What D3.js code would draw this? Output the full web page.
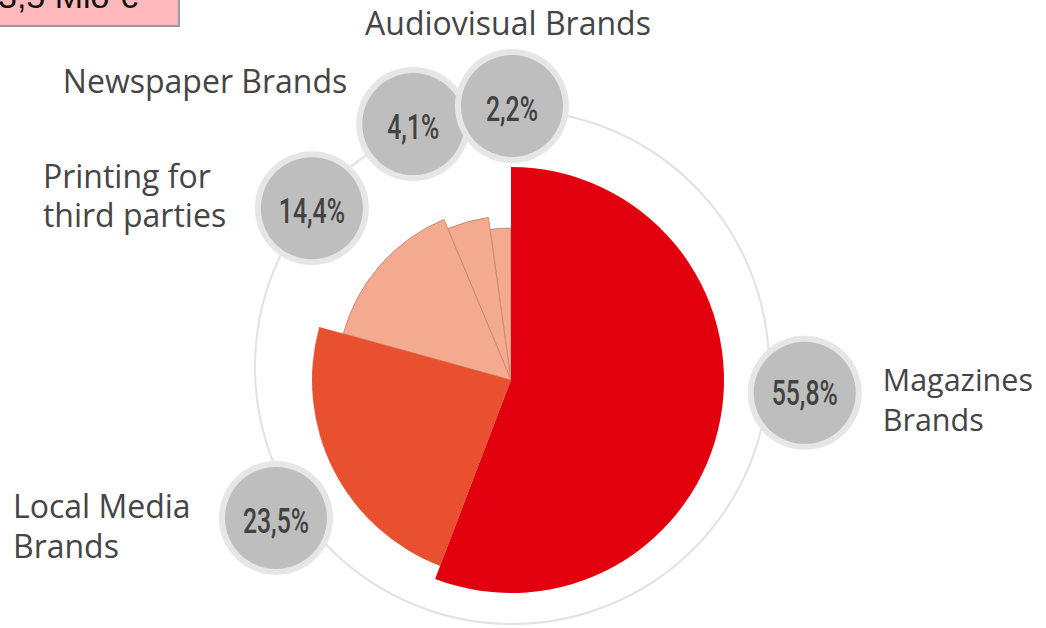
<!DOCTYPE html>
<html>
<head>
<meta charset="utf-8">
<script src="https://cdn.jsdelivr.net/npm/d3@7"></script>
<style>
  html, body { margin: 0; padding: 0; background: #ffffff; }
  svg { display: block; }
</style>
</head>
<body>
<svg id="chart" width="1046" height="628"></svg>
<script>
// Revenue split by business line (share of total, %)
const categories = ["Magazines Brands", "Local Media Brands", "Printing for third parties", "Newspaper Brands", "Audiovisual Brands"];
const shares = [55.8, 23.5, 14.4, 4.1, 2.2];
const labelLines = [["Magazines", "Brands"], ["Local Media", "Brands"], ["Printing for", "third parties"], ["Newspaper Brands"], ["Audiovisual Brands"]];
const valueLabels = ["55,8%", "23,5%", "14,4%", "4,1%", "2,2%"];
const bannerText = "3,5 Mio €";

// ---- layout ----
const W = 1046, H = 628;
const cx = 511, cy = 380;                 // pie centre
const ring = { x: 512, y: 367, r: 257 };  // thin guide circle
const outerRadii = [213, 199, 174, 164, 152];
const colors = ["#e2000f", "#e8502f", "#f3aa8e", "#f3aa8e", "#f3aa8e"];
// bubble placement: angle (deg, clockwise from 12 o'clock) and distance from pie centre
const bubblePos = [[92.5, 294], [239.6, 272.5], [310.8, 263], [339.1, 274], [0.2, 274]];
// label placement relative to the bubble centre
const labelPos = [
  { anchor: "start",  dx: 78,   dy: [-2, 38], size: 30.5 },
  { anchor: "start",  dx: -263, dy: [0, 40],  size: 32 },
  { anchor: "start",  dx: -269, dy: [-20, 19], size: 32 },
  { anchor: "end",    dx: -66,  dy: [-31],    size: 32 },
  { anchor: "middle", dx: -4,   dy: [-71],    size: 32 }
];

const svg = d3.select("#chart");

// banner box at the top-left corner
const banner = svg.append("g");
banner.append("rect").attr("x", -4).attr("y", -4).attr("width", 184).attr("height", 31).attr("fill", "#9a9a9a");
banner.append("rect").attr("x", -4).attr("y", -4).attr("width", 182).attr("height", 29).attr("fill", "#ffb8bb");
banner.append("text").attr("x", -2).attr("y", 8)
  .attr("font-family", "Liberation Sans, Arial, sans-serif").attr("font-size", 34)
  .attr("fill", "#111").text(bannerText);

// guide circle
svg.append("circle").attr("cx", ring.x).attr("cy", ring.y).attr("r", ring.r)
  .attr("fill", "none").attr("stroke", "#e2e2e2").attr("stroke-width", 2);

// pie with per-slice radius
const data = categories.map((c, i) => ({ name: c, value: shares[i], i }));
const pie = d3.pie().sort(null).value(d => d.value).startAngle(0).endAngle(2 * Math.PI);
const arcs = pie(data);
const arc = d3.arc().innerRadius(0).outerRadius(d => outerRadii[d.data.i]);

const pieG = svg.append("g").attr("transform", `translate(${cx},${cy})`);
// draw light slices first, then the larger ones on top
pieG.selectAll("path.slice")
  .data(arcs.slice().reverse())
  .join("path")
  .attr("class", "slice")
  .attr("d", arc)
  .attr("fill", d => colors[d.data.i])
  .attr("stroke", d => d.data.i >= 2 ? "#c98a74" : "none")
  .attr("stroke-width", d => d.data.i >= 2 ? 1 : 0)
  .attr("stroke-linejoin", "round");

// value bubbles
const rad = Math.PI / 180;
const bubbles = data.map((d, i) => {
  const a = bubblePos[i][0] * rad, r = bubblePos[i][1];
  return { ...d, x: cx + r * Math.sin(a), y: cy - r * Math.cos(a) };
});

const bG = svg.append("g").selectAll("g.bubble").data(bubbles).join("g")
  .attr("class", "bubble")
  .attr("transform", d => `translate(${d.x},${d.y})`);
bG.append("circle").attr("r", 57).attr("fill", "#e6e6e6");
bG.append("circle").attr("r", 51).attr("fill", "#bebebe");
bG.append("text")
  .attr("transform", d => `translate(0,${d.i === 0 ? 0 : 3}) scale(0.69,1)`)
  .attr("text-anchor", "middle")
  .attr("dominant-baseline", "central")
  .attr("font-family", "Roboto, sans-serif")
  .attr("font-weight", 500)
  .attr("font-size", 36)
  .attr("fill", "#424242")
  .text(d => valueLabels[d.i]);

// category labels
const lG = svg.append("g").selectAll("text.label").data(bubbles).join("text")
  .attr("class", "label")
  .attr("font-family", "Open Sans, sans-serif")
  .attr("font-size", d => labelPos[d.i].size)
  .attr("fill", "#454545")
  .attr("text-anchor", d => labelPos[d.i].anchor);
lG.selectAll("tspan").data(d => labelLines[d.i].map((t, k) => ({ t, k, d }))).join("tspan")
  .attr("x", o => o.d.x + labelPos[o.d.i].dx)
  .attr("y", o => o.d.y + labelPos[o.d.i].dy[o.k])
  .text(o => o.t);
</script>
</body>
</html>
